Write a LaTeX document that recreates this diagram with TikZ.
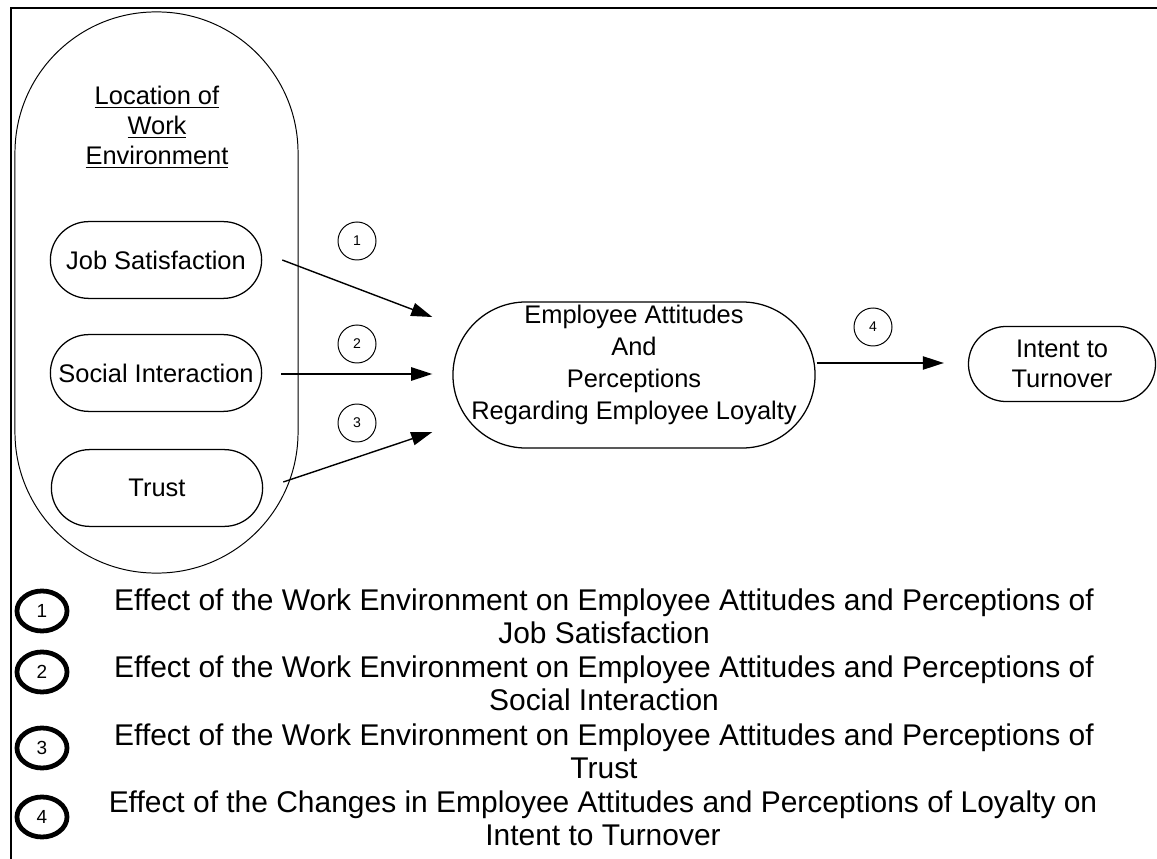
\documentclass[tikz,border=0pt]{standalone}
\usepackage{fontspec}
\setmainfont{Liberation Sans}
\usetikzlibrary{arrows.meta,calc,shapes.geometric}

\begin{document}
\begin{tikzpicture}[x=0.025cm,y=-0.025cm,
    box/.style={draw,line width=0.9pt,rounded corners=0.96cm,minimum width=5.28cm,minimum height=1.92cm,inner sep=0pt,align=center,font=\fontsize{18.1}{21.3}\selectfont},
    num/.style={draw,circle,line width=0.7pt,minimum size=0.95cm,inner sep=0pt,font=\fontsize{10}{12}\selectfont},
    key/.style={draw,ellipse,line width=3.4pt,minimum width=1.25cm,minimum height=1cm,inner sep=0pt,font=\fontsize{13.5}{15}\selectfont},
    note/.style={anchor=base,align=center,inner sep=0pt,font=\fontsize{21.3}{22.8}\selectfont},
    arr/.style={line width=1pt,-{Triangle[length=15pt,width=9.5pt]}}]
    \useasboundingbox (0,0) rectangle (1157,859);
    \draw[line width=1.8pt] (11,859) -- (11,8) -- (1157,8);

    \node[draw,line width=0.7pt,rounded corners=3.52cm,minimum width=7.075cm,minimum height=14.025cm] (env) at (156.5,292.5) {};
    \node[align=center,font=\fontsize{18.1}{21.3}\selectfont] (loc) at (157,127) {\underline{Location of}\\\underline{Work}\\\underline{Environment}};

    \node[box] (job) at (156,260) {Job Satisfaction};
    \node[box] (soc) at (156,373) {Social Interaction};
    \node[box] (trust) at (157,488) {Trust};
    \node[box,rounded corners=1.825cm,minimum width=9.05cm,minimum height=3.65cm,font=\fontsize{18.1}{22.8}\selectfont] (emp) at (634,375) {Employee Attitudes\\And\\Perceptions\\Regarding Employee Loyalty\\[-5pt]};
    \node[box,rounded corners=0.935cm,minimum width=4.675cm,minimum height=1.875cm] (turn) at (1062,364) {Intent to\\Turnover};

    \node[num] (c1) at (357,241) {1};
    \node[num] (c2) at (357,344) {2};
    \node[num] (c3) at (357,423) {3};
    \node[num] (c4) at (873,327) {4};

    \path ($(job.east)+(20,0)$) edge[arr] ($(emp.west)+(-20,-58)$);
    \path ($(soc.east)+(19,1)$) edge[arr] ($(emp.west)+(-20,-1)$);
    \path ($(trust.east)+(20,-6)$) edge[arr] ($(emp.west)+(-20,57)$);
    \path ($(emp.east)+(1,-12)$) edge[arr] ($(turn.west)+(-24,-1)$);

    \node[key] (k1) at (42,611) {1};
    \node[key] (k2) at (42,672) {2};
    \node[key] (k3) at (42,748) {3};
    \node[key] (k4) at (42,817) {4};

    \node[note] (n1) at (604,643) {Effect of the Work Environment on Employee Attitudes and Perceptions of\\Job Satisfaction};
    \node[note] (n2) at (604,710) {Effect of the Work Environment on Employee Attitudes and Perceptions of\\Social Interaction};
    \node[note] (n3) at (604,778) {Effect of the Work Environment on Employee Attitudes and Perceptions of\\Trust};
    \node[note] (n4) at (603,845) {Effect of the Changes in Employee Attitudes and Perceptions of Loyalty on\\Intent to Turnover};
\end{tikzpicture}
\end{document}
